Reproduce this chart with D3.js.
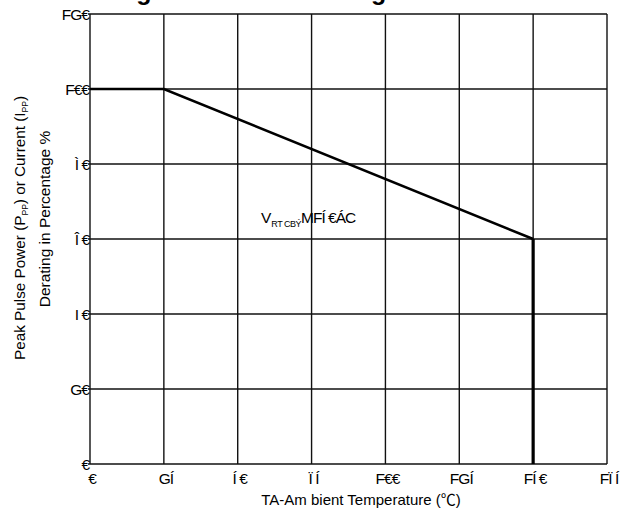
<!DOCTYPE html>
<html>
<head>
<meta charset="utf-8">
<script src="https://cdn.jsdelivr.net/npm/d3@7"></script>
<style>
  body { margin: 0; background: #fff; }
  text { font-family: Arial, "Liberation Sans", sans-serif; fill: #000; }
</style>
</head>
<body>
<div id="chart"></div>
<script>
var width = 630, height = 516;

/* data */
var curveTemp = [0, 25, 150, 150];
var curvePct = [100, 100, 60, 0];
var xTicks = [0, 25, 50, 75, 100, 125, 150, 175];
var xTickLabels = ["€", "GÍ", "Í €", "Ï Í", "F€€", "FGÍ", "FÍ €", "FÏ Í"];
var yTicks = [0, 20, 40, 60, 80, 100, 120];
var yTickLabels = ["€", "G€", "I €", "Î €", "Ì €", "F€€", "FG€"];

var margin = {left: 90, top: 14, right: 23, bottom: 52};

var svg = d3.select("#chart").append("svg")
    .attr("width", width)
    .attr("height", height);

var x = d3.scaleLinear().domain([0, 175]).range([margin.left, width - margin.right]);
var y = d3.scaleLinear().domain([0, 120]).range([height - margin.bottom, margin.top]);

/* title, cut off by the top edge as in the original */
svg.append("text")
    .attr("x", 50)
    .attr("y", 0)
    .style("font-size", "25px")
    .style("font-weight", "bold")
    .text("Derating Curve in Percentage");

/* grid */
var grid = svg.append("g").attr("stroke", "#111").attr("stroke-width", 1.4);
grid.selectAll("line.v").data(xTicks).enter().append("line")
    .attr("x1", d => x(d)).attr("x2", d => x(d))
    .attr("y1", y(0)).attr("y2", y(120));
grid.selectAll("line.h").data(yTicks).enter().append("line")
    .attr("x1", x(0) - 2).attr("x2", x(175))
    .attr("y1", d => y(d)).attr("y2", d => y(d));

/* tick labels */
svg.selectAll("text.yl").data(yTicks).enter().append("text")
    .attr("class", "yl")
    .attr("x", x(0) - 1)
    .attr("y", d => y(d) + 5.5)
    .attr("text-anchor", "end")
    .style("font-size", "15.5px")
    .style("letter-spacing", "-1px")
    .text((d, i) => yTickLabels[i]);

svg.selectAll("text.xl").data(xTicks).enter().append("text")
    .attr("class", "xl")
    .attr("x", d => x(d) + 2)
    .attr("y", y(0) + 20)
    .attr("text-anchor", "middle")
    .style("font-size", "15.5px")
    .style("letter-spacing", "-1px")
    .text((d, i) => xTickLabels[i]);

/* derating curve */
var pts = curveTemp.map((t, i) => [x(t), y(curvePct[i])]);
svg.append("path")
    .attr("d", d3.line()(pts.slice(0, 3)))
    .attr("fill", "none")
    .attr("stroke", "#000")
    .attr("stroke-width", 2.6);
svg.append("path")
    .attr("d", d3.line()(pts.slice(2)))
    .attr("fill", "none")
    .attr("stroke", "#000")
    .attr("stroke-width", 3.2);

/* annotation */
var ann = svg.append("text")
    .attr("x", 261)
    .attr("y", 223)
    .style("font-size", "15.5px");
ann.append("tspan").text("V");
ann.append("tspan").attr("dy", 4).style("font-size", "9px").style("letter-spacing", "-0.5px").text("RT CBÝ");
ann.append("tspan").attr("dy", -4).style("letter-spacing", "-1px").text("MFÍ €ÁC");

/* axis titles */
var xt = svg.append("text")
    .attr("x", 361)
    .attr("y", 505)
    .attr("text-anchor", "middle")
    .style("font-size", "15px");
xt.append("tspan").text("TA-Am bient Temperature (");
xt.append("tspan").style("font-family", "'Noto Sans CJK SC', sans-serif").text("℃");
xt.append("tspan").text(")");

var t1 = svg.append("text")
    .attr("transform", "translate(25,228) rotate(-90)")
    .attr("text-anchor", "middle")
    .style("font-size", "15.3px");
t1.append("tspan").text("Peak Pulse Power (P");
t1.append("tspan").attr("dy", 3).style("font-size", "8.5px").text("PP");
t1.append("tspan").attr("dy", -3).text(") or Current (I");
t1.append("tspan").attr("dy", 3).style("font-size", "8.5px").text("PP");
t1.append("tspan").attr("dy", -3).text(")");

svg.append("text")
    .attr("transform", "translate(50,219) rotate(-90)")
    .attr("text-anchor", "middle")
    .style("font-size", "15.5px")
    .text("Derating in Percentage %");
</script>
</body>
</html>
